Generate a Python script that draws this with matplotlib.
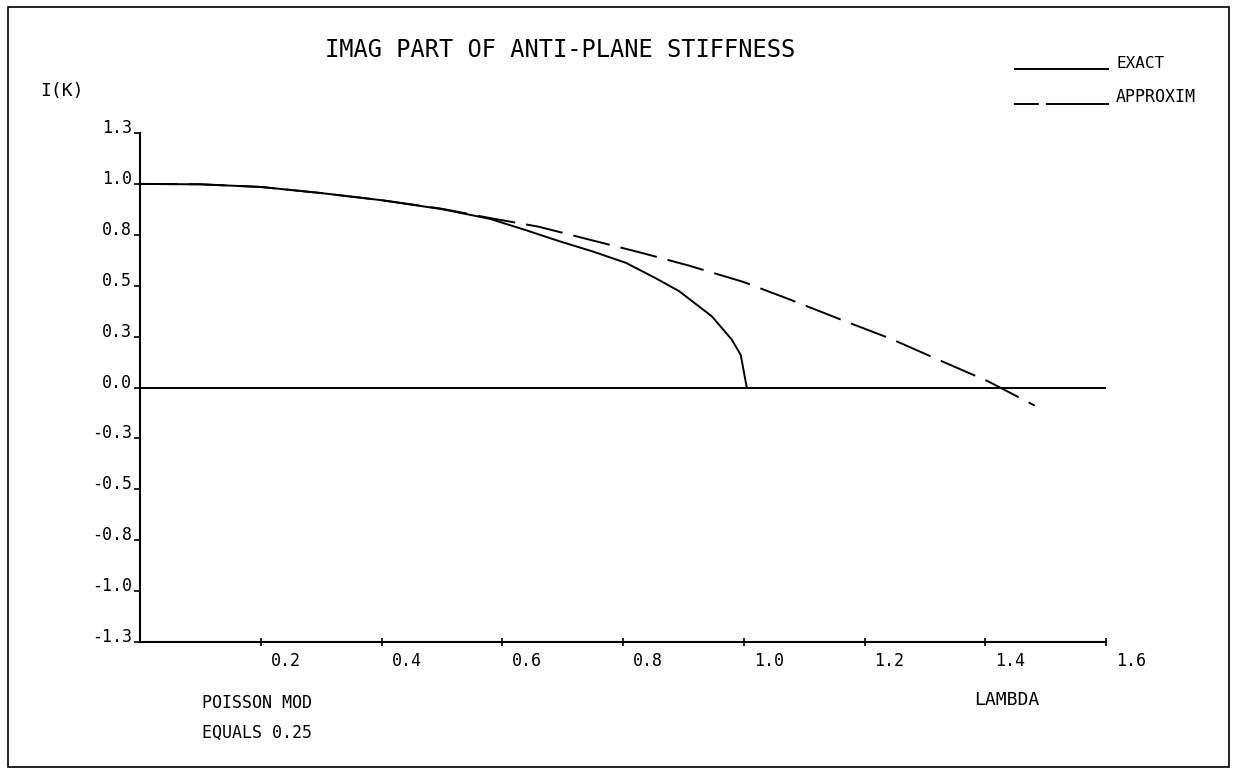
import matplotlib
matplotlib.use("Agg")
import matplotlib.pyplot as plt
from matplotlib.lines import Line2D
from matplotlib.patches import Rectangle
from matplotlib.transforms import ScaledTranslation

W, H = 1236, 772

# imaginary part of anti-plane stiffness
lam_exact = [0.0, 0.1, 0.2, 0.3, 0.4, 0.5, 0.58, 0.64, 0.694, 0.75, 0.805, 0.854, 0.893, 0.947, 0.98, 0.995, 1.005]
k_exact = [1.0, 0.998, 0.985, 0.955, 0.92, 0.876, 0.828, 0.772, 0.719, 0.668, 0.612, 0.537, 0.473, 0.35, 0.236, 0.16, 0.0]

lam_approx = [0.0, 0.1, 0.2, 0.3, 0.4, 0.5, 0.58, 0.66, 0.75, 0.83, 0.91, 1.0, 1.08, 1.157, 1.243, 1.325, 1.405, 1.482]
k_approx = [1.0, 0.998, 0.985, 0.955, 0.92, 0.878, 0.832, 0.79, 0.722, 0.662, 0.598, 0.518, 0.428, 0.338, 0.240, 0.133, 0.030, -0.089]

x_ticks = [0.2, 0.4, 0.6, 0.8, 1.0, 1.2, 1.4, 1.6]
x_tick_labels = ["0.2", "0.4", "0.6", "0.8", "1.0", "1.2", "1.4", "1.6"]
y_ticks = [1.25, 1.0, 0.75, 0.5, 0.25, 0.0, -0.25, -0.5, -0.75, -1.0, -1.25]
y_tick_labels = ["1.3", "1.0", "0.8", "0.5", "0.3", "0.0", "-0.3", "-0.5", "-0.8", "-1.0", "-1.3"]

plt.rcParams['font.family'] = ['DejaVu Sans Mono']
plt.rcParams['lines.scale_dashes'] = False


def px(x, y):
    """pixel position (from top left) -> figure fraction"""
    return x / W, 1 - y / H


fig = plt.figure(figsize=(W / 100, H / 100), dpi=100)
ax = fig.add_axes([140 / W, 1 - 642 / H, (1106 - 140) / W, (642 - 133) / H])

ax.plot(lam_exact, k_exact, color='black', lw=1.4)
ax.plot(lam_approx, k_approx, color='black', lw=1.4, dashes=(27, 8))
ax.axhline(0, color='black', lw=1.4)

ax.set_xlim(0, 1.6)
ax.set_ylim(-1.25, 1.25)
for side in ['top', 'right']:
    ax.spines[side].set_visible(False)
for side in ['left', 'bottom']:
    ax.spines[side].set_linewidth(1.5)

ax.set_xticks(x_ticks)
ax.set_xticklabels(x_tick_labels, fontsize=12, ha='left')
ax.set_yticks(y_ticks)
ax.set_yticklabels(y_tick_labels, fontsize=12, va='baseline')
ax.tick_params(axis='x', direction='inout', length=6, width=1.2, pad=4)
ax.tick_params(axis='y', direction='out', length=4, width=1.2, pad=2)
shift = ScaledTranslation(0.10, 0, fig.dpi_scale_trans)
for lab in ax.get_xticklabels():
    lab.set_transform(lab.get_transform() + shift)

# texts
fig.text(*px(560, 50), "IMAG PART OF ANTI-PLANE STIFFNESS", fontsize=17, ha='center', va='center')
fig.text(*px(40, 91), "I(K)", fontsize=13, ha='left', va='center')
fig.text(*px(202, 703), "POISSON MOD", fontsize=12, ha='left', va='center')
fig.text(*px(202, 733), "EQUALS 0.25", fontsize=12, ha='left', va='center')
fig.text(*px(974, 700), "LAMBDA", fontsize=13, ha='left', va='center')

# legend
fig.add_artist(Line2D([1015 / W, 1108 / W], [1 - 69 / H, 1 - 69 / H], color='black', lw=1.4))
fig.text(*px(1117, 63), "EXACT", fontsize=11.5, ha='left', va='center')
fig.add_artist(Line2D([1015 / W, 1038 / W], [1 - 104 / H, 1 - 104 / H], color='black', lw=1.4))
fig.add_artist(Line2D([1047 / W, 1108 / W], [1 - 104 / H, 1 - 104 / H], color='black', lw=1.4))
fig.text(*px(1116, 97), "APPROXIM", fontsize=12, ha='left', va='center')

# frame round the whole sheet
fig.patches.append(Rectangle(px(8, 767), (1229 - 8) / W, (767 - 7) / H, transform=fig.transFigure,
                             fill=False, edgecolor='black', lw=1.2))

fig.savefig("out.png", dpi=100)
